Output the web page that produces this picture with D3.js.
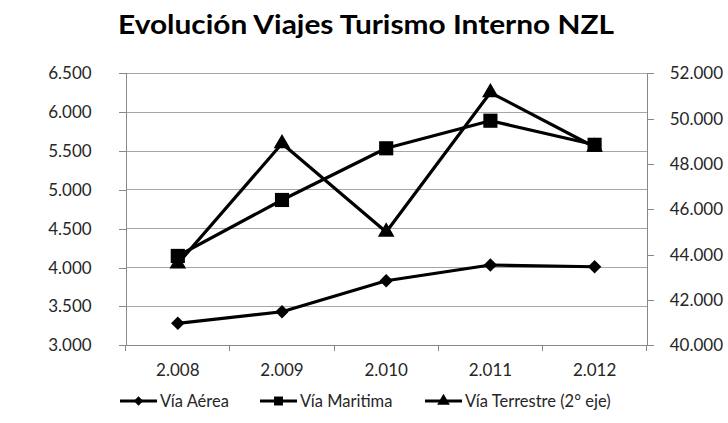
<!DOCTYPE html>
<html><head><meta charset="utf-8">
<script src="https://cdn.jsdelivr.net/npm/d3@7"></script>
<style>body{margin:0;background:#fff}svg{display:block}text{font-family:Lato,"Open Sans",sans-serif}</style>
</head><body>
<svg id="c" width="728" height="423"></svg>
<script>
const categories = ["2.008","2.009","2.010","2.011","2.012"];
const aerea = [3283, 3432, 3831, 4033, 4011];
const maritima = [4150, 4870, 5535, 5890, 5580];
const terrestre = [43600, 48900, 45000, 51150, 48750];
const leftTicks = [3000,3500,4000,4500,5000,5500,6000,6500];
const rightTicks = [40000,42000,44000,46000,48000,50000,52000];
const seriesNames = ["Vía Aérea","Vía Maritima","Vía Terrestre (2° eje)"];

const svg = d3.select("#c");
const L = 125.7, R = 646.7, T = 73.3, B = 345.3;
const fmt = d3.formatLocale({decimal:",", thousands:".", grouping:[3], currency:["",""]}).format(",.0f");

const x = d3.scaleBand().domain(categories).range([L, R]);
const yL = d3.scaleLinear().domain([3000, 6500]).range([B, T]);
const yR = d3.scaleLinear().domain([40000, 52000]).range([B, T]);

// gridlines
svg.append("g").selectAll("line").data(leftTicks).join("line")
  .attr("x1", L).attr("x2", R).attr("y1", d => yL(d)).attr("y2", d => yL(d))
  .attr("stroke", "#a6a6a6").attr("stroke-width", 1).attr("shape-rendering","crispEdges");

// axes
const axL = svg.append("g").attr("transform", `translate(${L},0)`)
  .call(d3.axisLeft(yL).tickValues(leftTicks).tickFormat(fmt).tickSize(7).tickPadding(27));
const axR = svg.append("g").attr("transform", `translate(${R},0)`)
  .call(d3.axisRight(yR).tickValues(rightTicks).tickFormat(fmt).tickSize(7).tickPadding(16));
const axX = svg.append("g").attr("transform", `translate(0,${B})`)
  .call(d3.axisBottom(x).tickSize(0).tickPadding(19));
svg.append("g").selectAll("line").data(d3.range(categories.length + 1)).join("line")
  .attr("x1", i => L + i * x.step()).attr("x2", i => L + i * x.step())
  .attr("y1", B).attr("y2", B + 6).attr("stroke", "#888").attr("shape-rendering","crispEdges");
[axL, axR, axX].forEach(a => {
  a.select(".domain").attr("stroke", "#888").attr("shape-rendering","crispEdges");
  a.selectAll(".tick line").attr("stroke", "#888").attr("shape-rendering","crispEdges");
  a.selectAll("text").attr("font-size", 17).attr("fill", "#262626").attr("font-family", "Lato, 'Open Sans', sans-serif");
});
axX.select(".domain").attr("d", `M${L},0H${R}`);

const cx = d => x(d) + x.bandwidth() / 2;
const symDiamond = d3.symbol().type(d3.symbolDiamond2).size(115)();
const symSquare = d3.symbol().type(d3.symbolSquare).size(200)();
const symTri = d3.symbol().type(d3.symbolTriangle).size(120)();

function drawSeries(vals, scale, sym) {
  const pts = categories.map((c, i) => [cx(c), scale(vals[i])]);
  svg.append("path").attr("d", d3.line()(pts)).attr("fill", "none")
    .attr("stroke", "#000").attr("stroke-width", 3.2).attr("stroke-linejoin", "round");
  svg.append("g").selectAll("path").data(pts).join("path")
    .attr("transform", d => `translate(${d[0]},${d[1]})`).attr("d", sym).attr("fill", "#000");
}
drawSeries(terrestre, yR, symTri);
drawSeries(aerea, yL, symDiamond);
drawSeries(maritima, yL, symSquare);

// title
svg.append("text").attr("x", 366).attr("y", 34).attr("text-anchor", "middle")
  .attr("font-size", 27).attr("font-weight", "bold").attr("fill", "#000")
  .attr("textLength", 496).attr("lengthAdjust", "spacingAndGlyphs")
  .text("Evolución Viajes Turismo Interno NZL");

// legend
const legX = [120, 260, 425];
const legSyms = [
  d3.symbol().type(d3.symbolDiamond2).size(55)(),
  d3.symbol().type(d3.symbolSquare).size(80)(),
  d3.symbol().type(d3.symbolTriangle).size(70)()
];
const leg = svg.append("g").selectAll("g").data(seriesNames).join("g")
  .attr("transform", (d, i) => `translate(${legX[i]},401)`);
leg.append("line").attr("x1", 0).attr("x2", 37).attr("stroke", "#000").attr("stroke-width", 3.2);
leg.append("path").attr("transform", "translate(18.5,0)").attr("d", (d, i) => legSyms[i]).attr("fill", "#000");
leg.append("text").attr("x", 40).attr("dy", "0.35em").attr("font-size", 16.5).attr("fill", "#262626").text(d => d);
</script>
</body></html>
